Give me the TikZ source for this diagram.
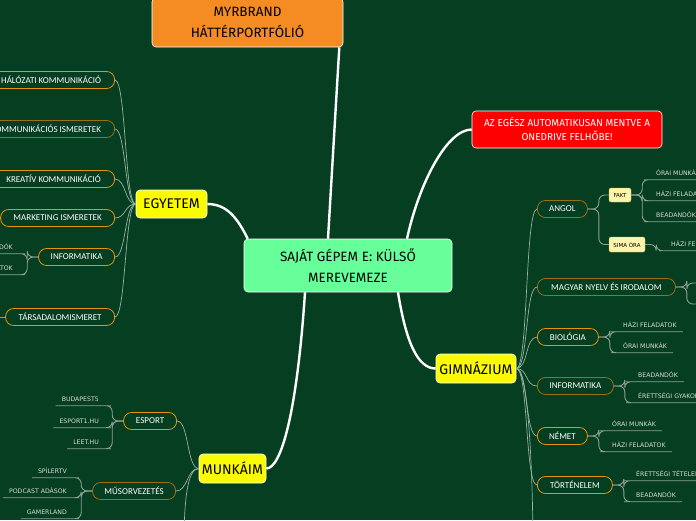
\documentclass[tikz,border=0pt]{standalone}
\usepackage{fontspec}
\usepackage{xcolor}
\usepackage{tikz}
\usetikzlibrary{positioning,calc}
\newfontfamily\handfont{Fira Sans}
\newfontfamily\pillfont{Carlito}
\newfontfamily\leaffont{DejaVu Sans}
\definecolor{bgcol}{RGB}{6,62,33}
\definecolor{rootcol}{RGB}{102,255,153}
\definecolor{brandcol}{RGB}{245,140,35}
\definecolor{hubcol}{RGB}{250,250,0}
\definecolor{notecol}{RGB}{255,0,0}
\definecolor{pillcol}{RGB}{232,146,18}
\definecolor{pilldimcol}{RGB}{160,110,18}
\definecolor{tagcol}{RGB}{255,245,170}
\definecolor{tagline}{RGB}{205,185,90}
\definecolor{twigcol}{RGB}{150,178,160}
\definecolor{stemcol}{RGB}{140,160,150}
\definecolor{leaftext}{RGB}{215,222,215}
\tikzset{
  topic/.style={draw=white, line width=0.6pt, rounded corners=4pt, align=center, font=\handfont\fontsize{13.5}{21}\selectfont, inner sep=2pt},
  rootbox/.style={topic, fill=rootcol, minimum width=208pt, minimum height=53pt},
  hubbox/.style={topic, fill=hubcol, minimum height=29pt, font=\handfont\fontsize{14}{16}\selectfont},
  pill/.style={draw=pillcol, line width=0.8pt, rounded corners=8pt, fill=bgcol, text=white, font=\pillfont\fontsize{9}{10}\selectfont, minimum height=17pt, inner xsep=4pt, inner ysep=0pt},
  pilldim/.style={pill, draw=pilldimcol},
  tagbox/.style={draw=tagline, fill=tagcol, rounded corners=2pt, font=\leaffont\fontsize{5.5}{6}\selectfont, minimum height=14pt, inner xsep=3pt, inner ysep=0pt},
  leaf/.style={text=leaftext, font=\leaffont\fontsize{6.2}{7}\selectfont, text height=5pt, text depth=0pt, inner xsep=6pt, inner ysep=4pt},
  trunk/.style={draw=white, line width=2.4pt},
  twig/.style={draw=twigcol, line width=0.7pt},
  stem/.style={draw=stemcol, line width=0.9pt, rounded corners=6pt}
}

\begin{document}
\begin{tikzpicture}[x=1pt, y=-1pt]
  \useasboundingbox (0,0) rectangle (696,520);
  \fill[bgcol] (0,0) rectangle (696,520);
  \clip (0,0) rectangle (696,520);

  % main topics
  \node[rootbox] (root) at (348,265.5) {SAJÁT GÉPEM E: KÜLSŐ\\MEREVEMEZE};
  \node[topic, fill=brandcol, minimum width=191pt, minimum height=49pt] (brand) at (247.5,22.5) {MYRBRAND\\HÁTTÉRPORTFÓLIÓ};
  \node[topic, fill=notecol, text=white, minimum width=190pt, minimum height=37pt, font=\handfont\fontsize{10}{14}\selectfont] (note) at (567,129.5) {AZ EGÉSZ AUTOMATIKUSAN MENTVE A\\ONEDRIVE FELHŐBE!};
  \node[hubbox, minimum width=71pt, minimum height=28pt] (egy) at (171.5,204) {EGYETEM};
  \node[hubbox, minimum width=80pt] (gim) at (476,368.5) {GIMNÁZIUM};
  \node[hubbox, minimum width=67pt] (mun) at (232.5,468.5) {MUNKÁIM};

  \draw[trunk] ([xshift=-20pt]root.north) -- ([xshift=-4pt]brand.south east);
  \draw[trunk] ([xshift=4pt]root.north west) .. controls +(-10,-20) and +(20,0) .. (egy.east);
  \draw[trunk] ([xshift=59pt]root.north) .. controls +(12,-55) and +(-25,0) .. (note.west);
  \draw[trunk] ([xshift=50pt]root.south) .. controls +(8,50) and +(-18,0) .. (gim.west);
  \draw[trunk] ([xshift=-43pt]root.south) .. controls +(-8,120) and +(15,0) .. (mun.east);

  % egyetem
  \node[pill, anchor=east, minimum width=127pt] (hal) at (115,80) {HÁLÓZATI KOMMUNIKÁCIÓ};
  \node[pilldim, anchor=east, minimum width=137pt] (kom) at (115,129) {KOMMUNIKÁCIÓS ISMERETEK};
  \node[pill, anchor=east, minimum width=122pt] (kre) at (115,179) {KREATÍV KOMMUNIKÁCIÓ};
  \node[pill, anchor=east, minimum width=114pt] (mar) at (115,218) {MARKETING ISMERETEK};
  \node[pill, anchor=east, minimum width=76pt] (einf) at (115,257) {INFORMATIKA};
  \node[pill, anchor=east, minimum width=109pt] (tar) at (115,317) {TÁRSADALOMISMERET};
  \node[leaf, anchor=east] (ei1) at (19,247) {BEADANDÓK};
  \node[leaf, anchor=east] (ei2) at (19,268) {HÁZI FELADATOK};
  \coordinate (tarend) at (-10,317);

  \draw[twig] (egy.west) .. controls +(-11,0) and +(11,0) .. (hal.east);
  \draw[twig] (egy.west) .. controls +(-11,0) and +(11,0) .. (kom.east);
  \draw[twig] (egy.west) .. controls +(-11,0) and +(11,0) .. (kre.east);
  \draw[twig] (egy.west) .. controls +(-11,0) and +(11,0) .. (mar.east);
  \draw[twig] (egy.west) .. controls +(-11,0) and +(11,0) .. (einf.east);
  \draw[twig] (egy.west) .. controls +(-11,0) and +(11,0) .. (tar.east);
  \draw[stem] (einf.west) -- ++(-11,0) |- (ei1.south east) -- (ei1.south west);
  \draw[stem] (einf.west) -- ++(-11,0) |- (ei2.south east) -- (ei2.south west);
  \draw[stem] (tar.west) -- (tarend);

  % gimnazium
  \node[pilldim, anchor=west, minimum width=50pt] (ang) at (537,209) {ANGOL};
  \node[pilldim, anchor=west, minimum width=138pt] (mag) at (537,287) {MAGYAR NYELV ÉS IRODALOM};
  \node[pill, anchor=west, minimum width=61pt] (bio) at (537,337) {BIOLÓGIA};
  \node[pilldim, anchor=west, minimum width=76pt] (ginf) at (537,386) {INFORMATIKA};
  \node[pill, anchor=west, minimum width=50pt] (nem) at (537,436) {NÉMET};
  \node[pill, anchor=west, minimum width=75pt] (tor) at (537,485) {TÖRTÉNELEM};
  \coordinate (gdown) at (533,545);

  \node[tagbox, minimum width=22pt] (fakt) at (620,195) {FAKT};
  \node[tagbox, minimum width=36pt, minimum height=15pt] (sima) at (627,244.5) {SIMA ÓRA};
  \node[leaf, anchor=west] (f1) at (650,173) {ÓRAI MUNKÁK};
  \node[leaf, anchor=west] (f2) at (650,194) {HÁZI FELADATOK};
  \node[leaf, anchor=west] (f3) at (650,215) {BEADANDÓK};
  \node[leaf, anchor=west] (s1) at (665,244) {HÁZI FELADATOK};
  \coordinate (mg1) at (710,283);
  \coordinate (mg2) at (710,304);
  \node[leaf, anchor=west] (b1) at (617,325) {HÁZI FELADATOK};
  \node[leaf, anchor=west] (b2) at (617,346) {ÓRAI MUNKÁK};
  \node[leaf, anchor=west] (i1) at (632,375) {BEADANDÓK};
  \node[leaf, anchor=west] (i2) at (632,396) {ÉRETTSÉGI GYAKORLATOK};
  \node[leaf, anchor=west] (n1) at (606,424) {ÓRAI MUNKÁK};
  \node[leaf, anchor=west] (n2) at (606,445) {HÁZI FELADATOK};
  \node[leaf, anchor=west] (t1) at (630,474) {ÉRETTSÉGI TÉTELEK};
  \node[leaf, anchor=west] (t2) at (630,495) {BEADANDÓK};

  \draw[twig] (gim.east) .. controls +(12,0) and +(-12,0) .. (ang.west);
  \draw[twig] (gim.east) .. controls +(12,0) and +(-12,0) .. (mag.west);
  \draw[twig] (gim.east) .. controls +(12,0) and +(-12,0) .. (bio.west);
  \draw[twig] (gim.east) .. controls +(12,0) and +(-12,0) .. (ginf.west);
  \draw[twig] (gim.east) .. controls +(12,0) and +(-12,0) .. (nem.west);
  \draw[twig] (gim.east) .. controls +(12,0) and +(-12,0) .. (tor.west);
  \draw[twig] (gim.east) .. controls +(14,0) and +(0,-40) .. (gdown);
  \draw[stem] (ang.east) -- ++(11,0) |- (fakt.west);
  \draw[stem] (ang.east) -- ++(11,0) |- (sima.west);
  \draw[stem] (fakt.east) -- ++(11,0) |- (f1.south west) -- (f1.south east);
  \draw[stem] (fakt.east) -- ++(11,0) |- (f2.south west) -- (f2.south east);
  \draw[stem] (fakt.east) -- ++(11,0) |- (f3.south west) -- (f3.south east);
  \draw[stem] (sima.east) -- ++(11,0) |- (s1.south west) -- (s1.south east);
  \draw[stem] (mag.east) -- ++(11,0) |- (mg1);
  \draw[stem] (mag.east) -- ++(11,0) |- (mg2);
  \draw[stem] (bio.east) -- ++(11,0) |- (b1.south west) -- (b1.south east);
  \draw[stem] (bio.east) -- ++(11,0) |- (b2.south west) -- (b2.south east);
  \draw[stem] (ginf.east) -- ++(11,0) |- (i1.south west) -- (i1.south east);
  \draw[stem] (ginf.east) -- ++(11,0) |- (i2.south west) -- (i2.south east);
  \draw[stem] (nem.east) -- ++(11,0) |- (n1.south west) -- (n1.south east);
  \draw[stem] (nem.east) -- ++(11,0) |- (n2.south west) -- (n2.south east);
  \draw[stem] (tor.east) -- ++(11,0) |- (t1.south west) -- (t1.south east);
  \draw[stem] (tor.east) -- ++(11,0) |- (t2.south west) -- (t2.south east);

  % munkaim
  \node[pill, anchor=east, minimum width=53pt] (esp) at (177,421) {ESPORT};
  \node[pilldim, anchor=east, minimum width=83pt] (mus) at (176,491) {MŰSORVEZETÉS};
  \coordinate (mdown) at (184,545);
  \node[leaf, anchor=east] (e1) at (105,399) {BUDAPEST5};
  \node[leaf, anchor=east] (e2) at (105,421) {ESPORT1.HU};
  \node[leaf, anchor=east] (e3) at (105,442) {LEET.HU};
  \node[leaf, anchor=east] (m1) at (73,471) {SPÍLERTV};
  \node[leaf, anchor=east] (m2) at (73,491) {PODCAST ADÁSOK};
  \node[leaf, anchor=east] (m3) at (73,512) {GAMERLAND};

  \draw[twig] (mun.west) .. controls +(-12,0) and +(12,0) .. (esp.east);
  \draw[twig] (mun.west) .. controls +(-12,0) and +(12,0) .. (mus.east);
  \draw[twig] (mun.west) .. controls +(-12,0) and +(0,-40) .. (mdown);
  \draw[stem] (esp.west) -- ++(-11,0) |- (e1.south east) -- (e1.south west);
  \draw[stem] (esp.west) -- ++(-11,0) |- (e2.south east) -- (e2.south west);
  \draw[stem] (esp.west) -- ++(-11,0) |- (e3.south east) -- (e3.south west);
  \draw[stem] (mus.west) -- ++(-11,0) |- (m1.south east) -- (m1.south west);
  \draw[stem] (mus.west) -- ++(-11,0) |- (m2.south east) -- (m2.south west);
  \draw[stem] (mus.west) -- ++(-11,0) |- (m3.south east) -- (m3.south west);
\end{tikzpicture}
\end{document}
